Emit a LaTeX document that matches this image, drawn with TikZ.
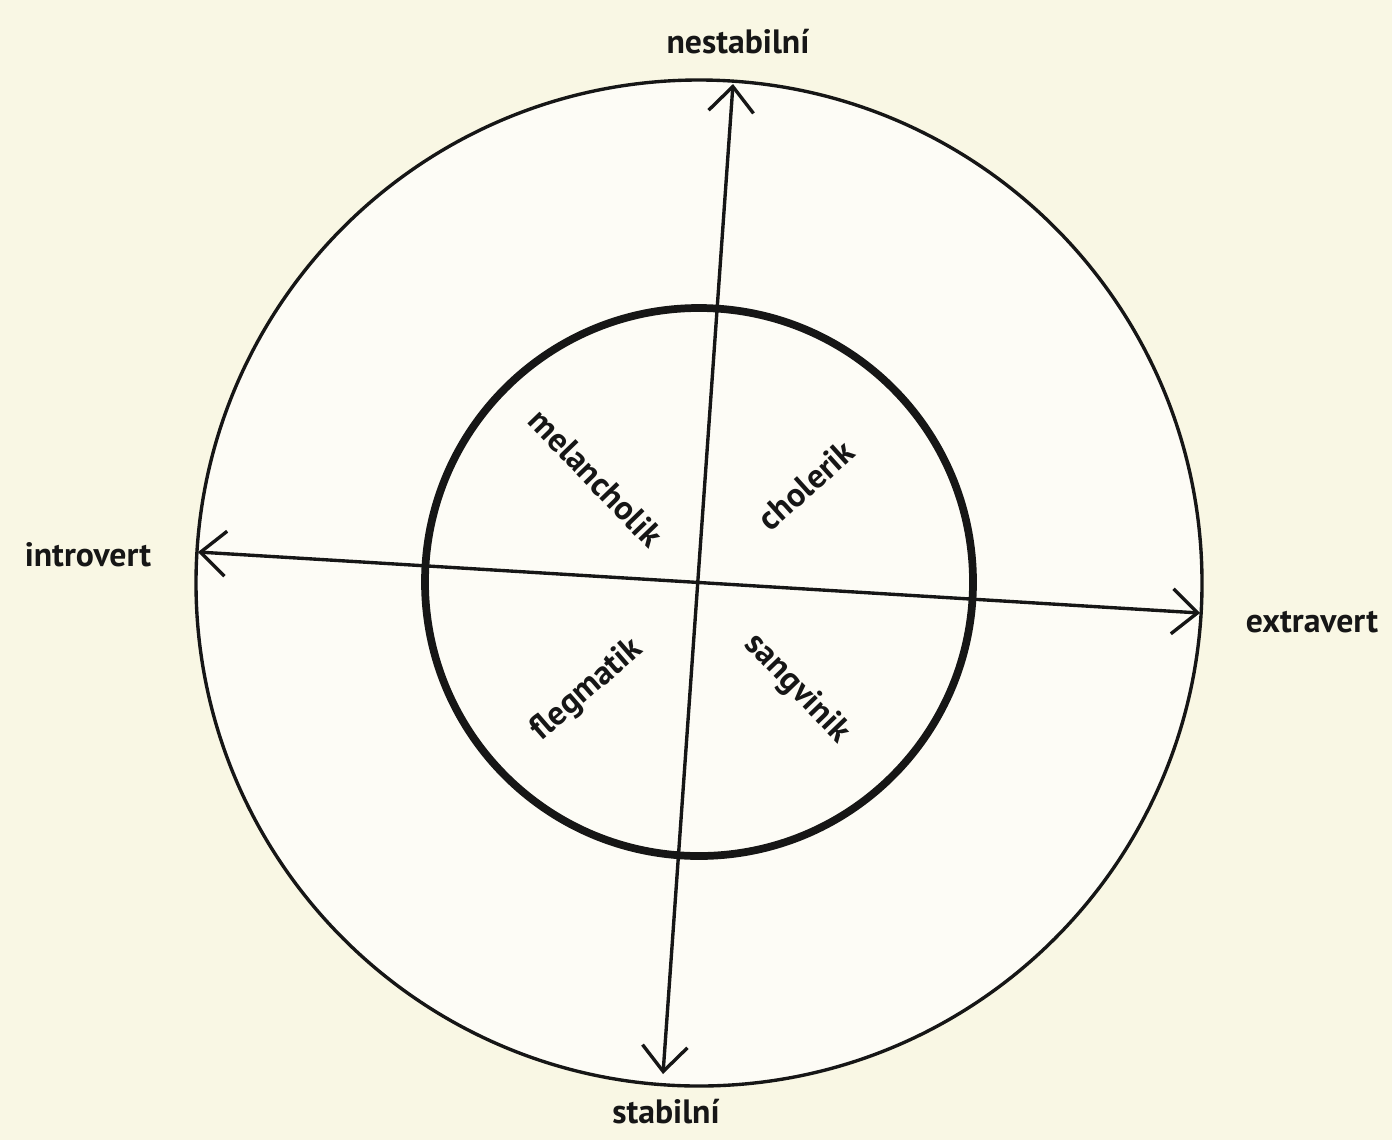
\documentclass[tikz,border=0pt]{standalone}
\usepackage{fontspec}
\setmainfont{PT Sans}
\usepackage{tikz}
\usetikzlibrary{arrows.meta,calc,positioning}
\usepackage{xcolor}
\definecolor{papier}  {RGB}{249,247,228}
\definecolor{papierin}{RGB}{253,252,246}
\definecolor{tinta}   {RGB}{22, 22, 22}
\tikzset{
  osa/.style={draw=tinta, line width=2.4pt, {Straight Barb[length=18pt,width=32pt,line width=2.4pt]}-{Straight Barb[length=18pt,width=32pt,line width=2.4pt]}},
  popis/.style={font=\bfseries\fontsize{24}{28}\selectfont, text=tinta, inner sep=1pt},
  typ/.style={popis}
}
\begin{document}
\begin{tikzpicture}[x=0.025cm, y=-0.025cm]
\useasboundingbox[fill=papier] (0,0) rectangle (1392,1140);
\fill[papierin] (699,583) circle [radius=503];
\draw[tinta, line width=2.4pt] (699,583) circle [radius=503];
\draw[tinta, line width=5.5pt] (699,582) circle [radius=274];
\coordinate (nahore) at (733,84);
\coordinate (dole) at (663,1074);
\coordinate (vlevo) at (198,552);
\coordinate (vpravo) at (1200,613);
\draw[osa] (dole) -- (nahore);
\draw[osa] (vlevo) -- (vpravo);
\node[popis] (nestab) at (738,42) {nestabilní};
\node[popis] (stab) at (666,1112) {stabilní};
\node[popis] (intro) at (88,555) {introvert};
\node[popis] (extra) at (1312,622) {extravert};
\node[typ, rotate=-46] (melan) at (596,478) {melancholik};
\node[typ, rotate=42] (chol) at (806,485) {cholerik};
\node[typ, rotate=41] (fleg) at (587,690) {flegmatik};
\node[typ, rotate=-46] (sang) at (797,689) {sangvinik};
\end{tikzpicture}
\end{document}
